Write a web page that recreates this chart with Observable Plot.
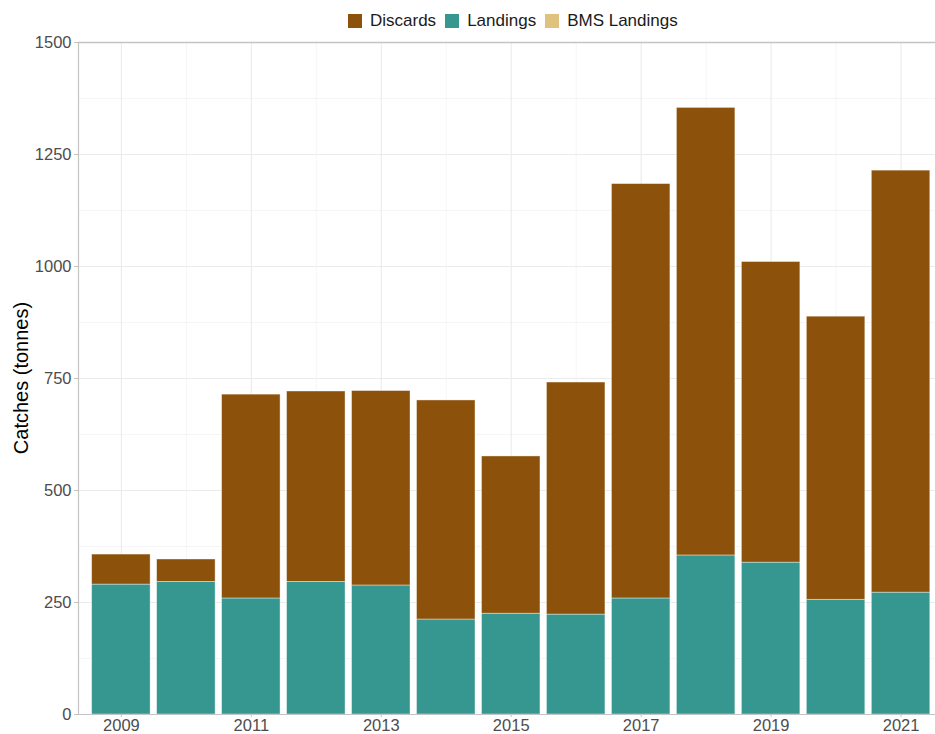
<!DOCTYPE html>
<html>
<head>
<meta charset="utf-8">
<script src="https://cdn.jsdelivr.net/npm/d3@7"></script>
<script src="https://cdn.jsdelivr.net/npm/@observablehq/plot@0.6"></script>
<style>
  body { margin: 0; background: #fff; font-family: "Liberation Sans", Arial, sans-serif; }
  #wrap { position: relative; width: 935px; height: 734px; overflow: hidden; background: #fff; }
  #legend { position: absolute; top: 11px; left: 348px; display: flex; align-items: center; font-size: 17px; color: #1a1a1a; white-space: nowrap; z-index: 2; }
  .item { display: flex; align-items: center; margin-right: 9px; }
  .sw { width: 14px; height: 14px; display: inline-block; margin-right: 8px; }
  #ylab { position: absolute; left: 21px; top: 378px; transform: translate(-50%, -50%) rotate(-90deg); font-size: 20px; white-space: nowrap; color: #000; z-index: 2; }
  #chart { position: absolute; left: 0; top: 30px; z-index: 1; }
</style>
</head>
<body>
<div id="wrap">
  <div id="chart"></div>
  <div id="legend"></div>
  <div id="ylab">Catches (tonnes)</div>
</div>
<script>
// ---- data ----
const years = [2009, 2010, 2011, 2012, 2013, 2014, 2015, 2016, 2017, 2018, 2019, 2020, 2021];
const landings = [290, 296, 259, 296, 288, 212, 225, 223, 259, 355, 339, 256, 272];
const discards = [67, 50, 455, 425, 434, 489, 351, 518, 925, 999, 671, 632, 942];
const bmsLandings = [0, 0, 0, 0, 0, 0, 0, 0, 0, 0, 0, 0, 0];
const seriesNames = ["Discards", "Landings", "BMS Landings"];
const seriesColors = ["#8c510a", "#35978f", "#dfc27d"];
const yTicks = [0, 250, 500, 750, 1000, 1250, 1500];
const yMinor = [125, 375, 625, 875, 1125, 1375];
const xTicks = [2009, 2011, 2013, 2015, 2017, 2019, 2021];
const xMinor = [2010, 2012, 2014, 2016, 2018, 2020];

// ---- table (landings at the bottom, then BMS, then discards) ----
const rows = [];
years.forEach((year, i) => {
  rows.push({year, series: "Landings", value: landings[i]});
  rows.push({year, series: "BMS Landings", value: bmsLandings[i]});
  rows.push({year, series: "Discards", value: discards[i]});
});

// ---- legend ----
const legend = document.getElementById("legend");
seriesNames.forEach((name, i) => {
  const item = document.createElement("span");
  item.className = "item";
  const sw = document.createElement("span");
  sw.className = "sw";
  sw.style.background = seriesColors[i];
  item.appendChild(sw);
  item.appendChild(document.createTextNode(name));
  legend.appendChild(item);
});

const xDomain = [2008.34, 2021.53];
const gridColor = "#ebebeb";
const axisColor = "#c4c4c4";

const chart = Plot.plot({
  width: 935,
  height: 704,
  marginTop: 12,
  marginBottom: 20,
  marginLeft: 78,
  marginRight: 0,
  style: { fontFamily: "Liberation Sans, Arial, sans-serif", background: "white", overflow: "visible" },
  x: { type: "linear", domain: xDomain, label: null },
  y: { domain: [0, 1500], label: null },
  color: { domain: seriesNames, range: seriesColors },
  marks: [
    Plot.gridY(yMinor, { stroke: "#f3f3f3", strokeOpacity: 1, strokeWidth: 0.8 }),
    Plot.gridY(yTicks, { stroke: gridColor, strokeOpacity: 1, strokeWidth: 1.1 }),
    Plot.gridX(xMinor, { stroke: "#f3f3f3", strokeOpacity: 1, strokeWidth: 0.8 }),
    Plot.gridX(xTicks, { stroke: gridColor, strokeOpacity: 1, strokeWidth: 1.1 }),
    Plot.rect(rows.filter(d => d.value > 0), Plot.stackY({
      x: "year",
      x1: d => d.year - 0.45,
      x2: d => d.year + 0.45,
      y: "value",
      fill: "series",
      order: null,
      stroke: "white",
      strokeOpacity: 0.5,
      strokeWidth: 0.8
    })),
    Plot.ruleY([1500], { stroke: axisColor, strokeWidth: 1.5 }),
    Plot.ruleY([0], { stroke: axisColor, strokeWidth: 1.2 }),
    Plot.ruleX([xDomain[0]], { stroke: axisColor, strokeWidth: 1.2 }),
    Plot.axisY({ ticks: yTicks, tickSize: 4, tickPadding: 3, fontSize: 16.5, color: "#4d4d4d", stroke: axisColor, label: null, tickFormat: d => String(d) }),
    Plot.axisX({ ticks: xTicks, tickSize: 3, tickPadding: 2, fontSize: 16.5, color: "#4d4d4d", stroke: axisColor, label: null, tickFormat: d => String(d) })
  ]
});
document.getElementById("chart").appendChild(chart);
</script>
</body>
</html>
